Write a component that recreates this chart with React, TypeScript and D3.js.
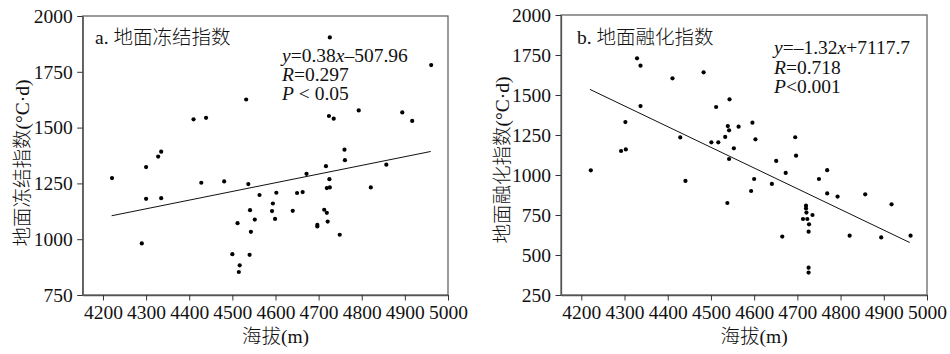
import React, { useEffect, useRef } from 'react';
import * as d3 from 'd3';

// 海拔 (m) vs 地面冻结指数 (°C·d)
const freezePoints: [number, number][] = [
  [4726, 1904], [4961, 1780], [4532, 1626], [4410, 1537], [4439, 1544], [4724, 1552],
  [4735, 1540], [4793, 1577], [4894, 1568], [4917, 1530], [4760, 1401], [4761, 1354],
  [4857, 1334], [4335, 1392], [4328, 1370], [4300, 1323], [4672, 1293], [4717, 1327],
  [4725, 1269], [4221, 1274], [4428, 1253], [4481, 1259], [4537, 1247], [4300, 1181],
  [4335, 1184], [4563, 1198], [4602, 1208], [4650, 1207], [4663, 1211], [4719, 1229],
  [4726, 1232], [4821, 1232], [4594, 1160], [4592, 1126], [4541, 1130], [4640, 1127],
  [4713, 1132], [4719, 1118], [4599, 1091], [4552, 1088], [4512, 1072], [4721, 1079],
  [4697, 1064], [4697, 1057], [4543, 1033], [4749, 1020], [4290, 981], [4500, 933],
  [4540, 930], [4517, 883], [4515, 853]
];

// 海拔 (m) vs 地面融化指数 (°C·d)
const thawPoints: [number, number][] = [
  [4329, 1729], [4337, 1683], [4411, 1604], [4483, 1642], [4337, 1431], [4512, 1425],
  [4543, 1473], [4302, 1331], [4292, 1150], [4303, 1160], [4429, 1235], [4501, 1204],
  [4517, 1204], [4533, 1238], [4539, 1306], [4542, 1279], [4564, 1302], [4596, 1327],
  [4603, 1223], [4553, 1167], [4542, 1100], [4695, 1236], [4697, 1121], [4651, 1088],
  [4222, 1029], [4673, 1013], [4441, 963], [4600, 975], [4750, 975], [4769, 1030],
  [4593, 900], [4641, 944], [4769, 885], [4793, 865], [4857, 879], [4918, 817],
  [4538, 825], [4720, 808], [4720, 791], [4721, 765], [4735, 750], [4713, 725],
  [4723, 725], [4727, 692], [4726, 646], [4665, 615], [4821, 621], [4894, 610],
  [4962, 621], [4726, 421], [4726, 390]
];

// fitted lines (end points)
const freezeFit: [number, number][] = [[4220, 1105], [4960, 1393]];
const thawFit: [number, number][] = [[4220, 1535], [4960, 578]];

const elevTicks = [4200, 4300, 4400, 4500, 4600, 4700, 4800, 4900, 5000];
const freezeTicks = [750, 1000, 1250, 1500, 1750, 2000];
const thawTicks = [250, 500, 750, 1000, 1250, 1500, 1750, 2000];

const FONT = "'Liberation Serif', 'Times New Roman', 'Noto Sans CJK SC', serif";

function App() {
  const ref = useRef<SVGSVGElement>(null);

  useEffect(() => {
    const svg = d3.select(ref.current);
    svg.selectAll('*').remove();

    const panels = [
      {
        left: 82.7, right: 448, top: 16, bottom: 295,
        yDomain: [750, 2000], yTicks: freezeTicks, points: freezePoints, fit: freezeFit,
        yLabel: '地面冻结指数(°C·d)', yLabelX: 22, yLabelY: 163,
        title: 'a. 地面冻结指数', titleX: 95,
        eqX: 282, eqY: [61.5, 81, 100],
        eq: [
          [['y', true], ['=0.38', false], ['x', true], ['–507.96', false]],
          [['R', true], ['=0.297', false]],
          [['P', true], [' < 0.05', false]]
        ]
      },
      {
        left: 561, right: 927, top: 15, bottom: 295,
        yDomain: [250, 2000], yTicks: thawTicks, points: thawPoints, fit: thawFit,
        yLabel: '地面融化指数(°C·d)', yLabelX: 502, yLabelY: 160,
        title: 'b. 地面融化指数', titleX: 577,
        eqX: 774, eqY: [54, 74, 93],
        eq: [
          [['y', true], ['=–1.32', false], ['x', true], ['+7117.7', false]],
          [['R', true], ['=0.718', false]],
          [['P', true], ['<0.001', false]]
        ]
      }
    ];

    panels.forEach((p) => {
      const x = d3.scaleLinear().domain([4153, 5000]).range([p.left, p.right]);
      const y = d3.scaleLinear().domain(p.yDomain).range([p.bottom, p.top]);

      const g = svg.append('g')
        .style('font-family', FONT).style('font-size', '19.5px').style('font-weight', 300);

      // frame
      g.append('rect')
        .attr('x', p.left).attr('y', p.top)
        .attr('width', p.right - p.left).attr('height', p.bottom - p.top)
        .attr('fill', 'none').attr('stroke', '#666').attr('stroke-width', 1.3);

      // x axis
      const xa = g.append('g')
        .attr('transform', 'translate(0,' + p.bottom + ')')
        .call(d3.axisBottom(x).tickValues(elevTicks).tickFormat(d3.format('d'))
          .tickSize(5.5).tickSizeOuter(0).tickPadding(5));
      xa.select('.domain').attr('stroke', '#555').attr('stroke-width', 1.3);
      xa.selectAll('.tick line').attr('stroke', '#333');
      xa.selectAll('.tick text')
        .style('font-family', FONT).style('font-size', '19.5px').attr('fill', '#111');

      // y axis
      const ya = g.append('g')
        .attr('transform', 'translate(' + p.left + ',0)')
        .call(d3.axisLeft(y).tickValues(p.yTicks).tickFormat(d3.format('d'))
          .tickSize(5.5).tickSizeOuter(0).tickPadding(4.5));
      ya.select('.domain').attr('stroke', '#555').attr('stroke-width', 1.3);
      ya.selectAll('.tick line').attr('stroke', '#333');
      ya.selectAll('.tick text')
        .style('font-family', FONT).style('font-size', '19.5px').attr('fill', '#111');

      // axis titles
      g.append('text')
        .attr('x', (x(4200) + x(5000)) / 2).attr('y', 343)
        .attr('text-anchor', 'middle').attr('fill', '#111')
        .text('海拔(m)');

      g.append('text')
        .attr('transform', 'translate(' + p.yLabelX + ',' + p.yLabelY + ') rotate(-90)')
        .attr('text-anchor', 'middle').attr('dominant-baseline', 'central').attr('fill', '#111')
        .text(p.yLabel);

      // fitted line
      g.append('line')
        .attr('x1', x(p.fit[0][0])).attr('y1', y(p.fit[0][1]))
        .attr('x2', x(p.fit[1][0])).attr('y2', y(p.fit[1][1]))
        .attr('stroke', '#111').attr('stroke-width', 1);

      // points
      g.selectAll('circle.pt')
        .data(p.points)
        .enter().append('circle')
        .attr('class', 'pt')
        .attr('cx', (d) => x(d[0]))
        .attr('cy', (d) => y(d[1]))
        .attr('r', 2.1)
        .attr('fill', '#000');

      // panel title
      g.append('text')
        .attr('x', p.titleX).attr('y', 44).attr('fill', '#111')
        .text(p.title);

      // equation
      p.eq.forEach((row, i) => {
        const t = g.append('text')
          .attr('x', p.eqX).attr('y', p.eqY[i]).attr('fill', '#111');
        row.forEach((part) => {
          t.append('tspan')
            .style('font-style', part[1] ? 'italic' : 'normal')
            .text(part[0] as string);
        });
      });
    });
  }, []);

  return (
    <svg
      ref={ref}
      width={950}
      height={354}
      style={{ position: 'absolute', left: 0, top: 0, background: '#fff' }}
    />
  );
}

export default App;
